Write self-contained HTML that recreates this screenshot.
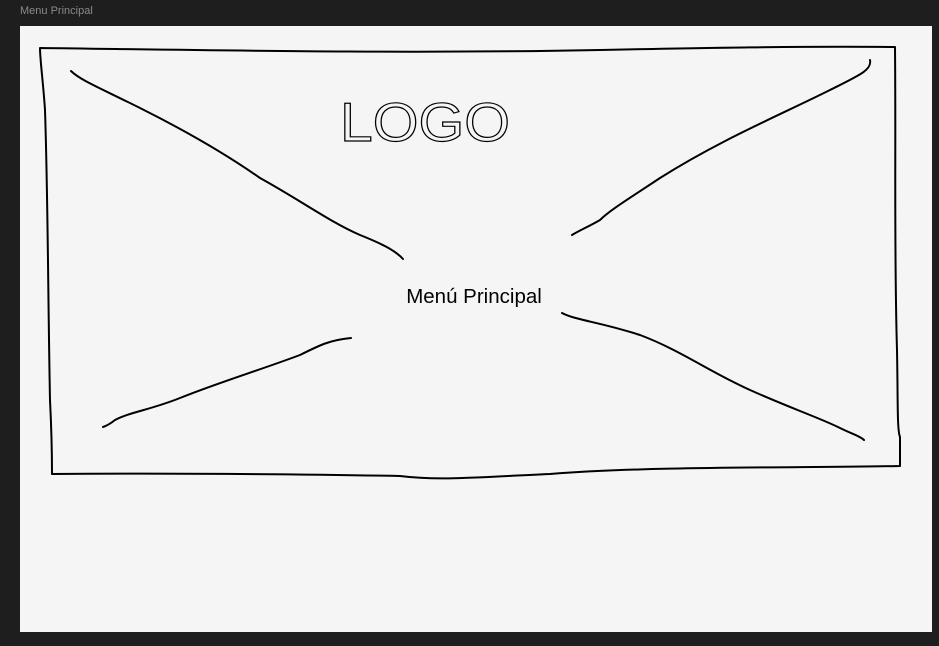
<!DOCTYPE html>
<html><head><meta charset="utf-8"><style>
html,body{margin:0;padding:0;background:#1e1e1e;width:939px;height:646px;overflow:hidden}
</style></head><body>
<svg width="939" height="646" viewBox="0 0 939 646" xmlns="http://www.w3.org/2000/svg">
<text x="20" y="14" font-family="Liberation Sans, sans-serif" font-size="11" fill="#8a8a8a">Menu Principal</text>
<rect x="20" y="26" width="912" height="606" fill="#f5f5f5"/>
<g fill="none" stroke="#000" stroke-width="2" stroke-linecap="round" stroke-linejoin="round">
<path d="M40 48 C200 50 400 54 600 50 C700 48 800 46 895 47 C896 150 894 250 897 350 C898 400 897 430 900 437 L900 466 C800 468 650 466 550 474 C480 477 440 481 400 476 C300 474 150 473 52 474 C52 460 52 440 50 400 C48 300 48 200 45 110 C43 80 40 60 40 48"/>
<path d="M71 71 C80 80 100 88 140 108 C180 128 220 150 260 178 C300 200 330 222 360 235 C380 243 395 250 403 259"/>
<path d="M870 60 C872 70 860 75 830 90 C780 115 720 140 660 178 C630 198 610 210 600 220 C590 226 580 230 572 235"/>
<path d="M351 338 C330 340 320 345 300 355 C260 370 220 382 180 398 C150 410 130 412 115 420 C110 424 106 426 103 427"/>
<path d="M562 313 C575 320 600 322 640 335 C680 350 710 372 750 390 C790 408 820 418 840 428 C852 434 860 436 864 440"/>
</g>
<text x="340" y="141" font-family="Liberation Sans, sans-serif" font-size="55" fill="none" stroke="#000" stroke-width="1.2" textLength="170" lengthAdjust="spacingAndGlyphs">LOGO</text>
<text x="474" y="303" text-anchor="middle" font-family="Liberation Sans, sans-serif" font-size="20.5" fill="#000">Menú Principal</text>
</svg>
</body></html>
